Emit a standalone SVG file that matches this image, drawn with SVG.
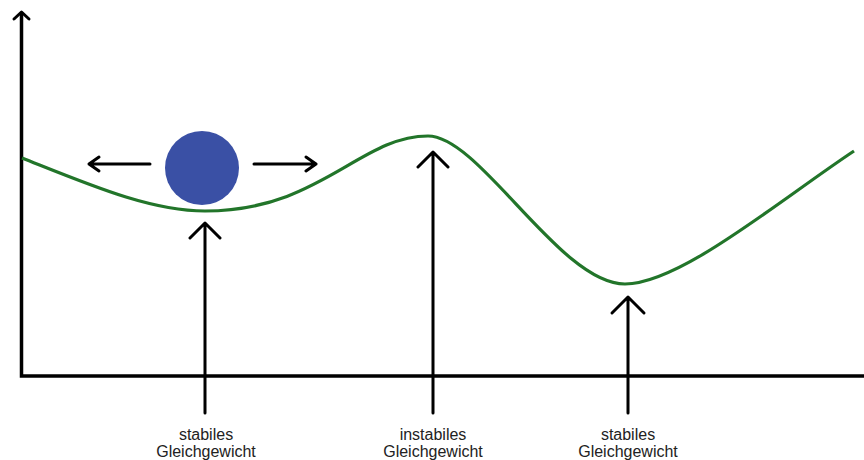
<svg xmlns="http://www.w3.org/2000/svg" width="864" height="460" viewBox="0 0 864 460">
  <style>
    .axis { stroke: #000; stroke-width: 3.5; fill: none; stroke-linecap: butt; }
    .arrow { stroke: #000; stroke-width: 3; fill: none; stroke-linecap: round; stroke-linejoin: round; }
    .curve { stroke: #22752a; stroke-width: 3.2; fill: none; }
    .label { font-family: "Liberation Sans", Arial, sans-serif; font-size: 16px; fill: #222; text-anchor: middle; }
  </style>
  <rect width="864" height="460" fill="#fff"/>

  <!-- axes -->
  <g id="axes">
    <path class="axis" d="M21.5 14 V376 H864"/>
    <path class="arrow" d="M14 19 L21.5 12 L29 19"/>
  </g>

  <!-- potential curve -->
  <g id="curve">
    <path class="curve" d="M22 158 C90 185 150 211 205 211 C320 211 360 136 428 136 C480 136 560 284 625 284 C680 284 780 200 854 151"/>
  </g>

  <!-- ball with displacement arrows -->
  <g id="ball">
    <circle cx="202" cy="168" r="37" fill="#3a50a5"/>
  </g>

  <g id="connectors">
    <path class="arrow" d="M150 164 H89 M99 157 L89 164 L99 171"/>
    <path class="arrow" d="M254 164 H316 M306 157 L316 164 L306 171"/>
    <path class="arrow" d="M205 413 V223 M190 238 L205 223 L220 238"/>
    <path class="arrow" d="M433 413 V152 M418 167 L433 152 L448 167"/>
    <path class="arrow" d="M628 413 V297 M612 313 L628 297 L644 313"/>
  </g>

  <g id="label-stable-1">
    <text class="label" x="206" y="440">stabiles</text>
    <text class="label" x="206" y="457">Gleichgewicht</text>
  </g>
  <g id="label-unstable">
    <text class="label" x="433" y="440">instabiles</text>
    <text class="label" x="433" y="457">Gleichgewicht</text>
  </g>
  <g id="label-stable-2">
    <text class="label" x="628" y="440">stabiles</text>
    <text class="label" x="628" y="457">Gleichgewicht</text>
  </g>
</svg>
